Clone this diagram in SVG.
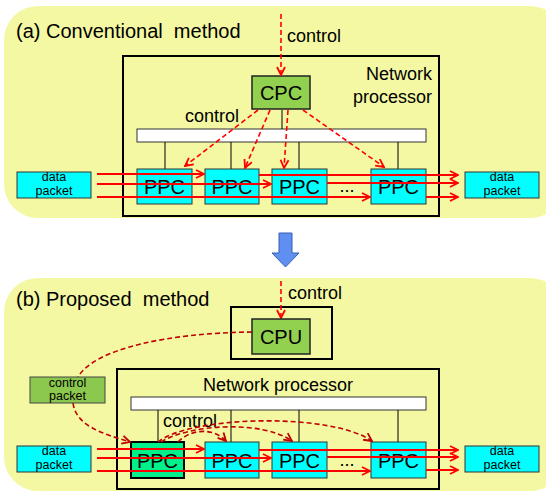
<svg xmlns="http://www.w3.org/2000/svg" width="546" height="491" viewBox="0 0 546 491">
<style>
text{font-family:"Liberation Sans",Arial,sans-serif;fill:#000}
.panel{fill:#F4F8A2;stroke:none}
.frame{fill:none;stroke:#000;stroke-width:2}
.ppc{fill:#00FFFF;stroke:#333;stroke-width:1}
.green{fill:#92D050;stroke:#222;stroke-width:1.5}
.bus{fill:#fff;stroke:#333;stroke-width:1}
.tap{stroke:#000;stroke-width:1;fill:none}
.flow{stroke:#FF0000;stroke-width:2;fill:none}
.ctl{stroke:#FF0000;stroke-width:1.6;fill:none;stroke-dasharray:5,3}
.ctld{stroke:#C00000;stroke-width:1.6;fill:none;stroke-dasharray:5,3}
.big{font-size:20px}
.lbl{font-size:18px}
.sm{font-size:12.5px;text-anchor:middle}
.node{font-size:20px;text-anchor:middle}
</style>
<defs>
<marker id="ah" viewBox="0 0 10 10" refX="9" refY="5" markerWidth="10" markerHeight="10" markerUnits="userSpaceOnUse" orient="auto">
<path d="M1,1 L9,5 L1,9" fill="none" stroke="#FF0000" stroke-width="1.8"/>
</marker>
<marker id="ahd" viewBox="0 0 10 10" refX="9" refY="5" markerWidth="10" markerHeight="10" markerUnits="userSpaceOnUse" orient="auto">
<path d="M1,1 L9,5 L1,9" fill="none" stroke="#C00000" stroke-width="1.8"/>
</marker>
</defs>

<!-- Panel (a) -->
<g id="panel-a">
<rect class="panel" x="4" y="6" width="560" height="212" rx="34"/>
<text class="big" x="16" y="38" style="white-space:pre">(a) Conventional  method</text>
</g>
<g id="np-a">
<rect class="frame" x="123" y="56" width="316" height="160"/>
<text class="lbl" x="432" y="80" text-anchor="end">Network</text>
<text class="lbl" x="432" y="103" text-anchor="end">processor</text>
</g>
<g id="bus-a">
<rect class="bus" x="137" y="129" width="289" height="13"/>
<path class="tap" d="M165,142V169 M231,142V169 M299,142V169 M398,142V169 M282,110V129"/>
</g>
<g id="cpc-a">
<rect class="green" x="252" y="76" width="58" height="33"/>
<text class="node" x="281" y="100">CPC</text>
</g>
<g id="ppc-a1"><rect class="ppc" x="137" y="169" width="55" height="35"/><text class="node" x="164.5" y="194">PPC</text></g>
<g id="ppc-a2"><rect class="ppc" x="205" y="169" width="54" height="35"/><text class="node" x="232" y="194">PPC</text></g>
<g id="ppc-a3"><rect class="ppc" x="272" y="169" width="55" height="35"/><text class="node" x="299.5" y="194">PPC</text></g>
<g id="ppc-a4"><rect class="ppc" x="371" y="169" width="55" height="35"/><text class="node" x="398.5" y="194">PPC</text></g>
<text class="lbl" x="347" y="192" text-anchor="middle">...</text>
<g id="dp-a-in"><rect class="ppc" x="17" y="172" width="74" height="26"/><text class="sm" x="54" y="181">data</text><text class="sm" x="54" y="195">packet</text></g>
<g id="dp-a-out"><rect class="ppc" x="465" y="172" width="74" height="26"/><text class="sm" x="502" y="181">data</text><text class="sm" x="502" y="195">packet</text></g>
<text class="lbl" x="287" y="42">control</text>
<text class="lbl" x="185" y="122">control</text>

<!-- Blue arrow -->
<g id="transition">
<path d="M279,233 L292,233 L292,253 L299,253 L285.5,267 L272,253 L279,253 Z" fill="#5F8FF0" stroke="#3A5FB0" stroke-width="1"/>
</g>

<!-- Panel (b) -->
<g id="panel-b">
<rect class="panel" x="4" y="278" width="560" height="213" rx="34"/>
<text class="big" x="16" y="306" style="white-space:pre">(b) Proposed  method</text>
</g>
<g id="cpu-box">
<rect class="frame" x="231" y="307" width="101" height="52"/>
</g>
<g id="np-b">
<rect class="frame" x="117" y="369" width="322" height="120"/>
<text class="lbl" x="278" y="391" text-anchor="middle">Network processor</text>
</g>
<g id="bus-b">
<rect class="bus" x="131" y="397" width="295" height="13"/>
<path class="tap" d="M158,410V442 M231,410V442 M299,410V442 M398,410V442"/>
</g>
<g id="ppc-b1"><rect x="131" y="442" width="53" height="36" fill="#00F08C" stroke="#000" stroke-width="2"/><text class="node" x="157.5" y="468">PPC</text></g>
<g id="ppc-b2"><rect class="ppc" x="205" y="442" width="54" height="36"/><text class="node" x="232" y="468">PPC</text></g>
<g id="ppc-b3"><rect class="ppc" x="272" y="442" width="55" height="36"/><text class="node" x="299.5" y="468">PPC</text></g>
<g id="ppc-b4"><rect class="ppc" x="371" y="442" width="55" height="36"/><text class="node" x="398.5" y="468">PPC</text></g>
<text class="lbl" x="347" y="466" text-anchor="middle">...</text>
<g id="dp-b-in"><rect class="ppc" x="17" y="446" width="74" height="26"/><text class="sm" x="54" y="455">data</text><text class="sm" x="54" y="469">packet</text></g>
<g id="dp-b-out"><rect class="ppc" x="465" y="446" width="74" height="26"/><text class="sm" x="502" y="455">data</text><text class="sm" x="502" y="469">packet</text></g>
<text class="lbl" x="288" y="299">control</text>
<text class="lbl" x="163" y="427">control</text>

<!-- Connectors -->
<g id="connectors">
<!-- (a) -->
<path class="ctl" d="M281,14 V75" marker-end="url(#ah)"/>
<path class="ctl" d="M258,110 L185,166" marker-end="url(#ah)"/>
<path class="ctl" d="M270,110 L245,168" marker-end="url(#ah)"/>
<path class="ctl" d="M288,110 L284,168" marker-end="url(#ah)"/>
<path class="ctl" d="M303,110 L384,167" marker-end="url(#ah)"/>
<path class="flow" d="M97,174 H204" marker-end="url(#ah)"/>
<path class="flow" d="M259,175 H458" marker-end="url(#ah)"/>
<path class="flow" d="M97,184 H271" marker-end="url(#ah)"/>
<path class="flow" d="M327,183 H458" marker-end="url(#ah)"/>
<path class="flow" d="M97,197 H370" marker-end="url(#ah)"/>
<path class="flow" d="M426,197 H458" marker-end="url(#ah)"/>
<!-- (b) -->
<path class="ctl" d="M281,281 V318" marker-end="url(#ah)"/>
<path class="ctld" d="M252,332 C170,333 95,348 78,377"/>
<path class="ctld" d="M73,403 C76,425 100,433 130,442" marker-end="url(#ahd)"/>
<path class="ctld" d="M178,442 C192,428 214,428 226,441" marker-end="url(#ahd)"/>
<path class="ctld" d="M161,442 C190,424 262,420 292,441" marker-end="url(#ahd)"/>
<path class="ctld" d="M158,442 C190,416 330,412 372,441" marker-end="url(#ahd)"/>
<path class="flow" d="M97,449 H204" marker-end="url(#ah)"/>
<path class="flow" d="M259,450 H458" marker-end="url(#ah)"/>
<path class="flow" d="M97,458 H271" marker-end="url(#ah)"/>
<path class="flow" d="M327,457 H458" marker-end="url(#ah)"/>
<path class="flow" d="M97,471 H370" marker-end="url(#ah)"/>
<path class="flow" d="M426,470 H458" marker-end="url(#ah)"/>
</g>

<g id="cpu">
<rect class="green" x="252" y="319" width="58" height="35"/>
<text class="node" x="281" y="344">CPU</text>
</g>
<g id="control-packet">
<rect x="30" y="377" width="75" height="26" fill="#8CC84E" stroke="#444" stroke-width="1"/>
<text class="sm" x="67.5" y="387">control</text>
<text class="sm" x="67.5" y="400">packet</text>
</g>
</svg>
